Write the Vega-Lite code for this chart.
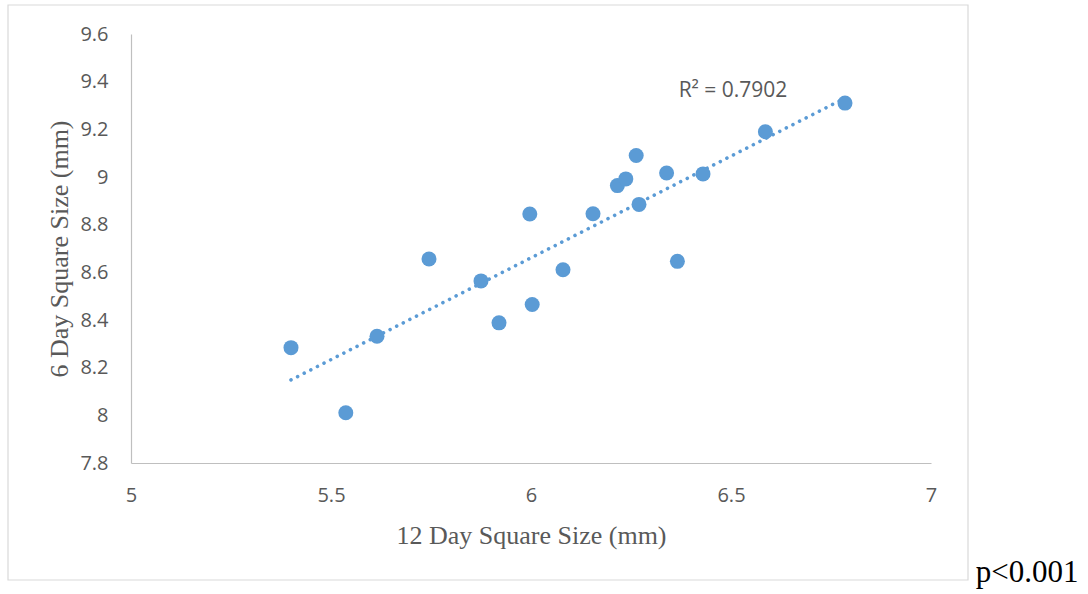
{
  "$schema": "https://vega.github.io/schema/vega-lite/v6.json",
  "autosize": "none",
  "width": 800,
  "height": 429,
  "padding": {"left": 131, "top": 34, "right": 157, "bottom": 131},
  "background": "white",
  "config": {"view": {"stroke": null}},
  "data": {"values": [
    {"x": 5.400, "y": 8.284},
    {"x": 5.537, "y": 8.011},
    {"x": 5.615, "y": 8.332},
    {"x": 5.745, "y": 8.656},
    {"x": 5.875, "y": 8.564},
    {"x": 5.920, "y": 8.388},
    {"x": 5.997, "y": 8.845},
    {"x": 6.003, "y": 8.465},
    {"x": 6.080, "y": 8.611},
    {"x": 6.155, "y": 8.846},
    {"x": 6.216, "y": 8.964},
    {"x": 6.237, "y": 8.992},
    {"x": 6.263, "y": 9.090},
    {"x": 6.270, "y": 8.885},
    {"x": 6.339, "y": 9.017},
    {"x": 6.366, "y": 8.646},
    {"x": 6.430, "y": 9.013},
    {"x": 6.586, "y": 9.190},
    {"x": 6.785, "y": 9.310}
  ]},
  "layer": [
    {
      "data": {"values": [{}]},
      "mark": {"type": "rect", "fill": null, "stroke": "#D9D9D9", "strokeWidth": 1.2},
      "encoding": {
        "x": {"datum": 4.6925, "type": "quantitative", "scale": {"domain": [5, 7], "nice": false, "zero": false}},
        "x2": {"datum": 7.0925},
        "y": {"datum": 9.7217, "type": "quantitative", "scale": {"domain": [7.8, 9.6], "nice": false, "zero": false}},
        "y2": {"datum": 7.309}
      }
    },
    {
      "transform": [{"regression": "y", "on": "x"}],
      "mark": {"type": "line", "color": "#5B9BD5", "strokeWidth": 3.6, "strokeDash": [0.01, 7.4], "strokeCap": "round"},
      "encoding": {
        "x": {"field": "x", "type": "quantitative"},
        "y": {"field": "y", "type": "quantitative"}
      }
    },
    {
      "mark": {"type": "circle", "size": 225, "color": "#5B9BD5", "opacity": 1},
      "encoding": {
        "x": {"field": "x", "type": "quantitative",
          "axis": {"values": [5, 5.5, 6, 6.5, 7], "labelExpr": "'' + datum.value", "title": "12 Day Square Size (mm)",
            "grid": false, "ticks": false, "tickSize": 0, "domainColor": "#BFBFBF", "domainWidth": 1.2, "labelFlush": false,
            "labelFont": "Open Sans", "labelFontSize": 20, "labelColor": "#595959", "labelPadding": 22,
            "titleFont": "Liberation Serif", "titleFontSize": 26, "titleFontWeight": "normal", "titleColor": "#595959",
            "titleX": 400, "titleY": 80, "titleBaseline": "alphabetic", "titleAlign": "center"}},
        "y": {"field": "y", "type": "quantitative",
          "axis": {"values": [7.8, 8, 8.2, 8.4, 8.6, 8.8, 9, 9.2, 9.4, 9.6], "labelExpr": "'' + datum.value", "title": "6 Day Square Size (mm)",
            "grid": false, "ticks": false, "tickSize": 0, "domainColor": "#BFBFBF", "domainWidth": 1.2, "labelFlush": false,
            "labelFont": "Open Sans", "labelFontSize": 20, "labelColor": "#595959", "labelPadding": 23,
            "titleFont": "Liberation Serif", "titleFontSize": 26, "titleFontWeight": "normal", "titleColor": "#595959",
            "titleX": -72, "titleY": 214.5, "titleAngle": -90, "titleBaseline": "middle", "titleAlign": "center"}}
      }
    },
    {
      "data": {"values": [{"label": "R² = 0.7902"}]},
      "mark": {"type": "text", "font": "Open Sans", "fontSize": 21, "fontWeight": "normal", "fill": "#595959", "align": "center", "baseline": "alphabetic"},
      "encoding": {
        "text": {"field": "label"},
        "x": {"datum": 6.505, "type": "quantitative"},
        "y": {"datum": 9.337, "type": "quantitative"}
      }
    },
    {
      "data": {"values": [{"label": "p<0.001"}]},
      "mark": {"type": "text", "font": "Liberation Serif", "fontSize": 31, "fontWeight": "normal", "fill": "#000000", "align": "left", "baseline": "alphabetic"},
      "encoding": {
        "text": {"field": "label"},
        "x": {"datum": 7.1118, "type": "quantitative"},
        "y": {"datum": 7.3006, "type": "quantitative"}
      }
    }
  ]
}
